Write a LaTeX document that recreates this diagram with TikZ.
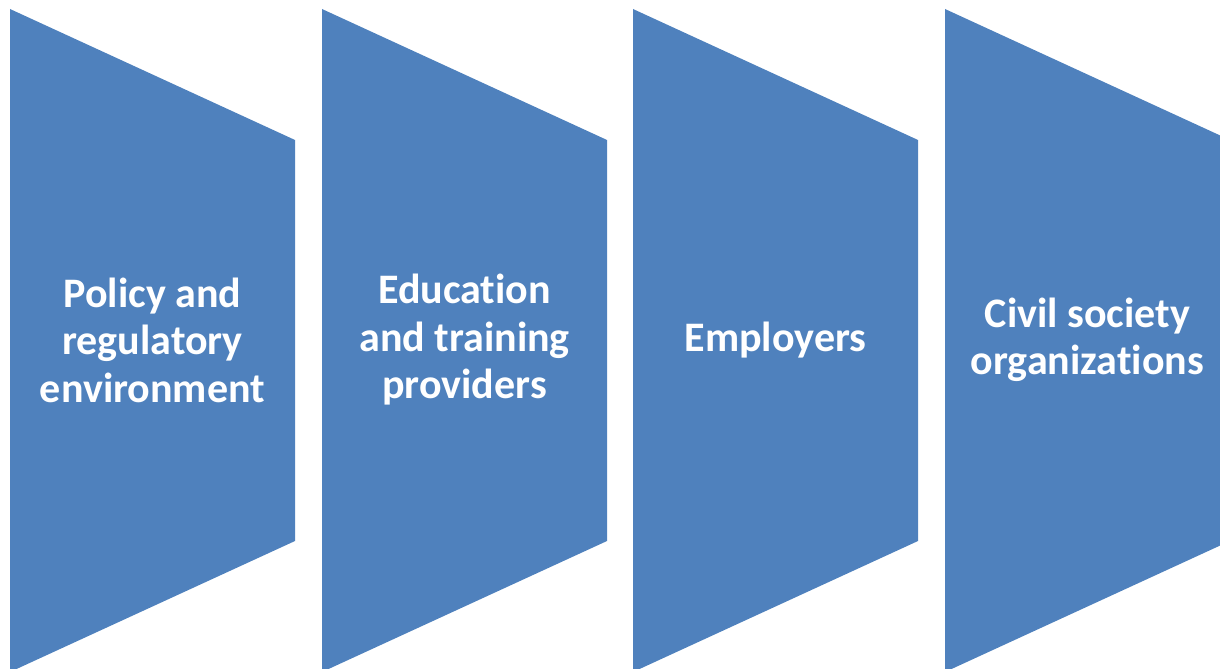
\documentclass[tikz,border=0pt]{standalone}
\usepackage{fontspec}
\setmainfont[RawFeature={-liga;-clig;-dlig}]{Carlito}
\definecolor{panelblue}{RGB}{79,129,189}

\begin{document}
\begin{tikzpicture}[x=0.25mm,y=-0.25mm]

\tikzstyle{panel} = [fill=panelblue]
\tikzstyle{lbl} = [text=white, font=\bfseries\fontsize{29.9}{33.8}\selectfont, align=center]

\clip (0,0) rectangle (1220,669);

% four panels, each narrowing to the right
\fill[panel] (10,9) -- (295,140) -- (295,541) -- (10,672) -- cycle;
\fill[panel] (322,9) -- (607,140) -- (607,541) -- (322,672) -- cycle;
\fill[panel] (633,9) -- (918,140) -- (918,541) -- (633,672) -- cycle;
\fill[panel] (945,9) -- (1230,140) -- (1230,541) -- (945,672) -- cycle;

\node[lbl] (policy) at (152.5,340) {Policy and\\regulatory\\environment};
\node[lbl] (education) at (464.5,340) {Education\\and training\\providers};
\node[lbl] (employers) at (775.5,340) {Employers};
\node[lbl] (civil) at (1087.5,340) {Civil society\\organizations};

\end{tikzpicture}
\end{document}
